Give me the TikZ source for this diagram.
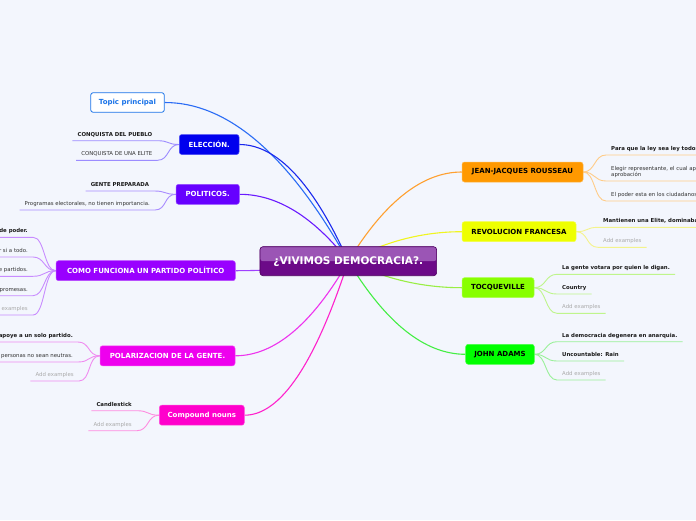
\documentclass[tikz,border=0pt]{standalone}
\usepackage{fontspec}
\setmainfont{DejaVu Sans}
\pgfdeclarelayer{bgfill}
\pgfdeclarelayer{links}
\pgfsetlayers{bgfill,links,main}
\definecolor{bgc}{HTML}{F3F6FD}
\definecolor{txtdark}{HTML}{1A1A1A}
\definecolor{txtreg}{HTML}{333333}
\definecolor{addgrey}{HTML}{AAAAAA}
\definecolor{topicblue}{HTML}{1A73E8}
\definecolor{cElec}{HTML}{0000EE}
\definecolor{cPoli}{HTML}{6600FF}
\definecolor{cComo}{HTML}{9900FF}
\definecolor{cPolar}{HTML}{EE00EE}
\definecolor{cComp}{HTML}{FF00CC}
\definecolor{cRous}{HTML}{FF9900}
\definecolor{cRevo}{HTML}{EEFF00}
\definecolor{cTocq}{HTML}{88FF00}
\definecolor{cAdams}{HTML}{00FF00}
\definecolor{lTopic}{HTML}{2A6CF5}
\definecolor{lElec}{HTML}{1A28EE}
\definecolor{lPoli}{HTML}{6A1AFF}
\definecolor{lComo}{HTML}{A040FF}
\definecolor{lPolar}{HTML}{EE33EE}
\definecolor{lComp}{HTML}{FF22CC}
\definecolor{lRous}{HTML}{FFA030}
\definecolor{lRevo}{HTML}{F0F520}
\definecolor{lTocq}{HTML}{99EE44}
\definecolor{lAdams}{HTML}{44EE44}
\definecolor{fElec}{HTML}{9C8CFF}
\definecolor{fPoli}{HTML}{A98CFF}
\definecolor{fComo}{HTML}{C88CFF}
\definecolor{fPolar}{HTML}{F08CF0}
\definecolor{fComp}{HTML}{FF8CE0}
\definecolor{fRous}{HTML}{FFCC88}
\definecolor{fRevo}{HTML}{F3F38C}
\definecolor{fTocq}{HTML}{BFF58C}
\definecolor{fAdams}{HTML}{99F099}
\definecolor{cenTop}{HTML}{9B55B5}
\definecolor{cenBot}{HTML}{6C0A88}
\definecolor{cenEdge}{HTML}{4D005E}
\tikzset{
  catbox/.style={rounded corners=2.5pt, minimum height=20pt, inner sep=1pt,
    font=\fontsize{7}{8}\selectfont\bfseries, text=white, line width=0.5pt},
  leafbase/.style={inner xsep=5pt, inner ysep=3pt, font=\fontsize{5.4}{6.4}\selectfont, text=txtreg},
  leaf/.style={leafbase, text height=4pt, text depth=1.3pt},
  bleaf/.style={leaf, font=\fontsize{5.4}{6.4}\selectfont\bfseries, text=txtdark},
  addex/.style={leaf, text=addgrey},
  mainlink/.style={line width=1.1pt},
  leaflink/.style={line width=0.9pt},
}
\begin{document}
\begin{tikzpicture}[x=1pt,y=-1pt]
\useasboundingbox (0,0) rectangle (696,520);
\begin{pgfonlayer}{bgfill}
\fill[bgc] (0,0) rectangle (696,520);
\end{pgfonlayer}
\begin{scope}
\clip (0,0) rectangle (696,520);
% central node
\node[minimum width=176.7pt, minimum height=29pt, rounded corners=3pt, draw=cenEdge, line width=0.6pt,
  fill=cenBot, inner sep=0pt,
  path picture={\fill[cenTop] (path picture bounding box.north west) rectangle (path picture bounding box.east);},
  font=\fontsize{10.5}{12}\selectfont\bfseries, text=white] (cen) at (348.3,261.2) {¿VIVIMOS DEMOCRACIA?.};
% category nodes
\node[catbox, draw=topicblue, line width=0.8pt, fill=white, text=topicblue, minimum width=73.6pt, minimum height=19.6pt] (topic) at (127.5,102.5) {Topic principal};
\node[catbox, fill=cElec, draw=cElec!70!white, minimum width=59.7pt] (elec) at (209.2,144.5) {ELECCIÓN.};
\node[catbox, fill=cPoli, draw=cPoli!70!white, minimum width=63.3pt] (poli) at (207.7,194.3) {POLITICOS.};
\node[catbox, fill=cComo, draw=cComo!70!white, minimum width=179.3pt] (como) at (145.7,270.7) {COMO FUNCIONA UN PARTIDO POLÍTICO};
\node[catbox, fill=cPolar, draw=cPolar!70!white, minimum width=135pt] (polar) at (167.5,355.8) {POLARIZACION DE LA GENTE.};
\node[catbox, fill=cComp, draw=cComp!70!white, minimum width=85pt] (comp) at (201.8,415.2) {Compound nouns};
\node[catbox, fill=cRous, draw=cRous!70!white, text=black, minimum width=121pt] (rous) at (522.5,172) {JEAN-JACQUES ROUSSEAU};
\node[catbox, fill=cRevo, draw=cRevo!70!white, text=black, minimum width=114pt] (revo) at (519,231.7) {REVOLUCION FRANCESA};
\node[catbox, fill=cTocq, draw=cTocq!70!white, text=black, minimum width=72pt] (tocq) at (498,287.7) {TOCQUEVILLE};
\node[catbox, fill=cAdams, draw=cAdams!70!white, text=black, minimum width=68.6pt] (adams) at (500,354.3) {JOHN ADAMS};
% left leaves
\node[bleaf, anchor=south east] (e1) at (157.5,140.7) {CONQUISTA DEL PUEBLO};
\node[leaf, anchor=south east] (e2) at (157.5,160.3) {CONQUISTA DE UNA ELITE};
\node[bleaf, anchor=south east] (p1) at (154.3,191) {GENTE PREPARADA};
\node[leaf, anchor=south east] (p2) at (155,210) {Programas electorales, no tienen importancia.};
\node[bleaf, anchor=south east] (c1) at (33,237.3) {Grupos de poder.};
\node[leaf, anchor=south east] (c2) at (33,257) {Decir si a todo.};
\node[leaf, anchor=south east] (c3) at (33,276.3) {Sistema de partidos.};
\node[leaf, anchor=south east] (c4) at (33,295.7) {Hacen promesas.};
\node[addex, anchor=south east] (c5) at (33,315) {Add examples};
\node[bleaf, anchor=south east] (z1) at (78,342) {Que la gente apoye a un solo partido.};
\node[leaf, anchor=south east] (z2) at (78,362) {Que las personas no sean neutras.};
\node[addex, anchor=south east] (z3) at (79,381) {Add examples};
\node[bleaf, anchor=south east] (k1) at (137,410.7) {Candlestick};
\node[addex, anchor=south east] (k2) at (137,430.7) {Add examples};
% right leaves
\node[bleaf, anchor=south west] (r1) at (606,155) {Para que la ley sea ley todos deben aceptarla.};
\node[leafbase, anchor=south west, align=left] (r2) at (606,181) {Elegir representante, el cual aprueba leyes sin su\\aprobación};
\node[leaf, anchor=south west] (r3) at (606,201) {El poder esta en los ciudadanos.};
\node[bleaf, anchor=south west] (v1) at (598,227.3) {Mantienen una Elite, dominaban al pueblo.};
\node[addex, anchor=south west] (v2) at (598,247.3) {Add examples};
\node[bleaf, anchor=south west] (t1) at (557,274.3) {La gente votara por quien le digan.};
\node[bleaf, anchor=south west] (t2) at (557,294) {Country};
\node[addex, anchor=south west] (t3) at (557,313.3) {Add examples};
\node[bleaf, anchor=south west] (a1) at (557,341.7) {La democracia degenera en anarquia.};
\node[bleaf, anchor=south west] (a2) at (557,361) {Uncountable: Rain};
\node[addex, anchor=south west] (a3) at (557,380) {Add examples};
\end{scope}
\begin{pgfonlayer}{links}
% main connectors
\draw[mainlink, lTopic] (topic.east) .. controls (228.2,102.5) and (289.4,155.4) .. (cen.center);
\draw[mainlink, lElec] (elec.east) .. controls (276.9,144.5) and (313.3,183.4) .. (cen.center);
\draw[mainlink, lPoli] (poli.east) .. controls (277.1,194.3) and (313.4,216.6) .. (cen.center);
\draw[mainlink, lComo] (como.east) .. controls (274.5,270.7) and (312.1,267.5) .. (cen.center);
\draw[mainlink, lPolar] (polar.east) .. controls (274.3,355.8) and (312.0,324.3) .. (cen.center);
\draw[mainlink, lComp] (comp.east) .. controls (280.4,415.2) and (315.0,363.9) .. (cen.center);
\draw[mainlink, lRous] (rous.west) .. controls (422.5,172) and (384.7,201.7) .. (cen.center);
\draw[mainlink, lRevo] (revo.west) .. controls (422.5,231.7) and (384.7,241.5) .. (cen.center);
\draw[mainlink, lTocq] (tocq.west) .. controls (422.5,287.7) and (384.7,278.9) .. (cen.center);
\draw[mainlink, lAdams] (adams.west) .. controls (425,354.3) and (385.9,323.3) .. (cen.center);
% left leaf connectors
\foreach \cat/\lf/\col in {elec/e1/fElec, elec/e2/fElec, poli/p1/fPoli, poli/p2/fPoli,
  como/c1/fComo, como/c2/fComo, como/c3/fComo, como/c4/fComo, como/c5/fComo,
  polar/z1/fPolar, polar/z2/fPolar, polar/z3/fPolar, comp/k1/fComp, comp/k2/fComp}
  \draw[leaflink, \col] (\cat.west) .. controls +(-12,0) and +(12,0) .. (\lf.south east) -- (\lf.south west);
% right leaf connectors
\foreach \cat/\lf/\col in {rous/r1/fRous, rous/r2/fRous, rous/r3/fRous, revo/v1/fRevo, revo/v2/fRevo,
  tocq/t1/fTocq, tocq/t2/fTocq, tocq/t3/fTocq, adams/a1/fAdams, adams/a2/fAdams, adams/a3/fAdams}
  \draw[leaflink, \col] (\cat.east) .. controls +(12,0) and +(-12,0) .. (\lf.south west) -- (\lf.south east);
\end{pgfonlayer}
\end{tikzpicture}
\end{document}
